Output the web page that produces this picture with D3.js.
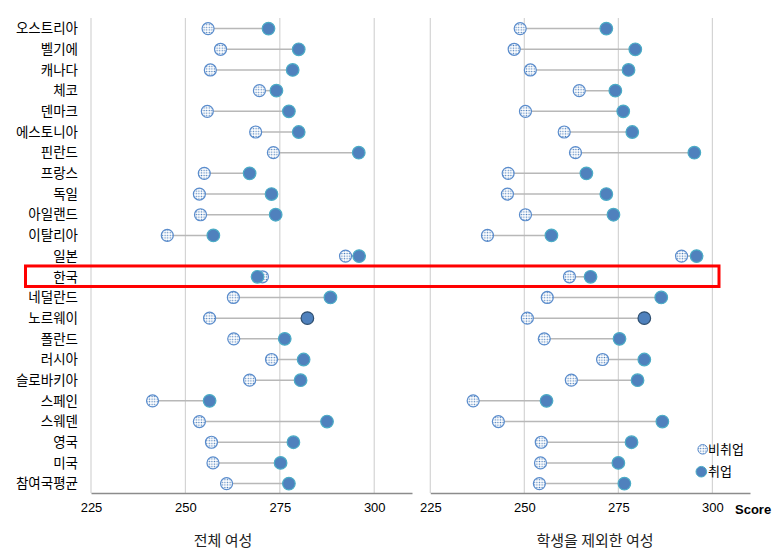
<!DOCTYPE html>
<html><head><meta charset="utf-8">
<script src="https://cdn.jsdelivr.net/npm/d3@7"></script>
<style>body{margin:0;background:#fff;} svg{display:block;font-family:"Noto Sans CJK KR","Noto Sans",sans-serif;}</style>
</head><body><svg id="c" width="775" height="556"></svg>
<script>
const countries = ["오스트리아","벨기에","캐나다","체코","덴마크","에스토니아","핀란드","프랑스","독일","아일랜드","이탈리아","일본","한국","네덜란드","노르웨이","폴란드","러시아","슬로바키아","스페인","스웨덴","영국","미국","참여국평균"];
const allNonEmployed = [256.0,259.3,256.6,269.6,255.8,268.6,273.3,255.0,253.7,254.0,245.2,292.4,270.4,262.7,256.4,262.8,272.8,267.0,241.3,253.7,256.9,257.3,260.9];
const allEmployed    = [272.0,280.0,278.4,274.1,277.4,280.0,295.9,267.0,272.8,273.9,257.4,296.0,269.1,288.4,282.3,276.3,281.3,280.5,256.4,287.5,278.6,275.2,277.4];
const exclNonEmployed = [248.9,247.3,251.6,264.6,250.3,260.6,263.6,245.7,245.5,250.3,240.2,291.8,262.0,256.1,250.8,255.3,270.8,262.5,236.4,243.1,254.5,254.3,254.0];
const exclEmployed    = [271.8,279.5,277.7,274.2,276.3,278.7,295.2,266.5,271.8,273.7,257.2,295.8,267.6,286.4,281.9,275.3,281.9,280.1,255.9,286.7,278.5,275.0,276.6];
const tickValues = [225,250,275,300];
const panelTitles = ["전체 여성","학생을 제외한 여성"];
const legendLabels = ["비취업","취업"];
const highlight = "한국";
const darkStroke = "노르웨이";

const svg = d3.select("#c");
const defs = svg.append("defs");
const pat = defs.append("pattern").attr("id","dots").attr("patternUnits","userSpaceOnUse").attr("width",2.6).attr("height",2.6);
pat.append("rect").attr("width",2.6).attr("height",2.6).attr("fill","#fff");
pat.append("circle").attr("cx",1.3).attr("cy",1.3).attr("r",0.75).attr("fill","#4f81bd");

const y = d3.scalePoint().domain(countries).range([28.6,483.6]);
const yTop = 18, yAxis = 493;
const titleX = [223, 595];
const panels = [
  {x:d3.scaleLinear().domain([225,310]).range([91,412]), non:allNonEmployed, emp:allEmployed, title:panelTitles[0]},
  {x:d3.scaleLinear().domain([225,310]).range([430.3,750]), non:exclNonEmployed, emp:exclEmployed, title:panelTitles[1]}
];

panels.forEach((p,pi)=>{
  const g = svg.append("g");
  g.selectAll("line.grid").data(tickValues).enter().append("line")
    .attr("x1",d=>p.x(d)).attr("x2",d=>p.x(d)).attr("y1",yTop).attr("y2",yAxis)
    .attr("stroke","#d4d4d4").attr("stroke-width",1.2);
  const ax = g.append("g").attr("transform",`translate(0,${yAxis})`)
    .call(d3.axisBottom(p.x).tickValues(tickValues).tickSize(0).tickPadding(10));
  ax.select(".domain").attr("stroke","#8c8c8c").attr("stroke-width",1.3);
  ax.selectAll("text").attr("font-size",13).attr("fill","#000").attr("font-family","'Liberation Sans',Arial,sans-serif");
  const rows = countries.map((c,i)=>({c, non:p.non[i], emp:p.emp[i]}));
  g.selectAll("line.conn").data(rows).enter().append("line")
    .attr("x1",d=>p.x(d.non)).attr("x2",d=>p.x(d.emp)).attr("y1",d=>y(d.c)).attr("y2",d=>y(d.c))
    .attr("stroke","#b8b8b8").attr("stroke-width",1.5);
  g.selectAll("circle.non").data(rows).enter().append("circle")
    .attr("cx",d=>p.x(d.non)).attr("cy",d=>y(d.c)).attr("r",6)
    .attr("fill","url(#dots)").attr("stroke","#5a8ccc").attr("stroke-width",1.2);
  g.selectAll("circle.emp").data(rows).enter().append("circle")
    .attr("cx",d=>p.x(d.emp)).attr("cy",d=>y(d.c)).attr("r",6.3)
    .attr("fill","#4f81bd").attr("stroke",d=>d.c===darkStroke?"#2f4f6f":"#4bacc6").attr("stroke-width",1.2);
  g.append("text").attr("x",titleX[pi]).attr("y",546)
    .attr("text-anchor","middle").attr("font-size",15).attr("fill","#222").text(p.title);
});

// country labels
svg.append("g").selectAll("text").data(countries).enter().append("text")
  .attr("x",78).attr("y",d=>y(d)).attr("dy","0.35em").attr("text-anchor","end")
  .attr("font-size",13.5).attr("fill","#000").text(d=>d);

// Score label
svg.append("text").attr("x",735).attr("y",514).attr("font-size",13).attr("font-weight","bold")
  .attr("font-family","'Liberation Sans',Arial,sans-serif").text("Score");

// legend
const lg = svg.append("g");
lg.append("circle").attr("cx",702.7).attr("cy",449.3).attr("r",4.8).attr("fill","url(#dots)").attr("stroke","#5a8ccc").attr("stroke-width",1);
lg.append("circle").attr("cx",701.3).attr("cy",471.7).attr("r",5.3).attr("fill","#4f81bd").attr("stroke","#4bacc6").attr("stroke-width",1);
lg.append("text").attr("x",708).attr("y",449.3).attr("dy","0.35em").attr("font-size",13).text(legendLabels[0]);
lg.append("text").attr("x",708).attr("y",471.7).attr("dy","0.35em").attr("font-size",13).text(legendLabels[1]);

// highlight rectangle
svg.append("rect").attr("x",25.5).attr("y",y(highlight)-10.8).attr("width",693.5).attr("height",20.5)
  .attr("fill","none").attr("stroke","#ff0000").attr("stroke-width",3);
</script></body></html>
